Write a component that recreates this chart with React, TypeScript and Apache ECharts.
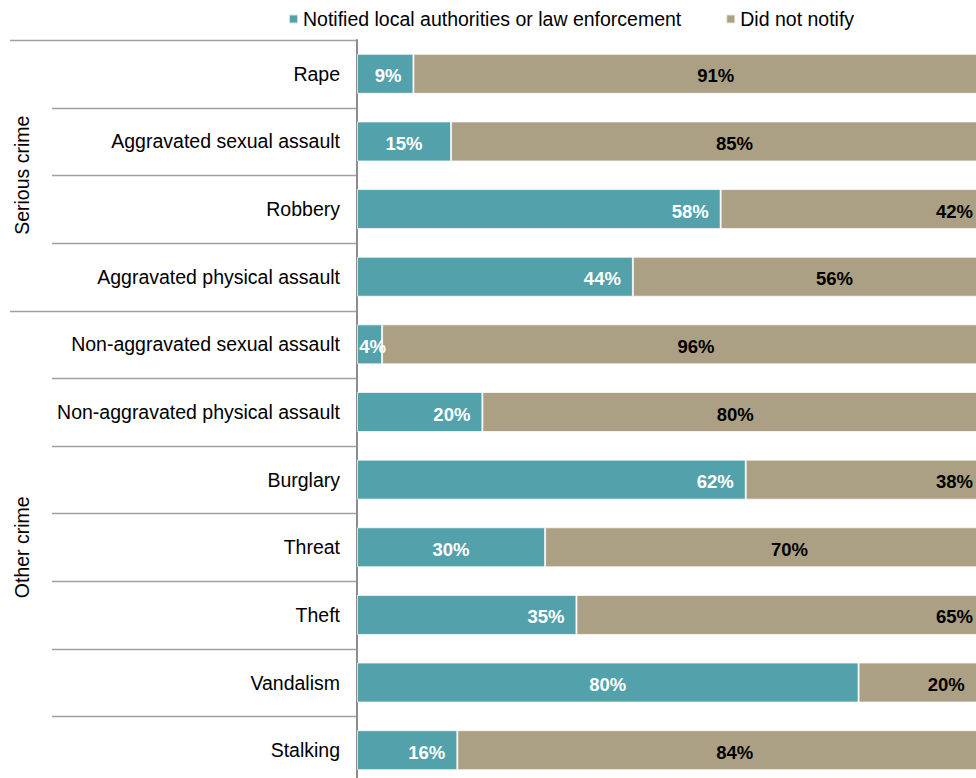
import React, { useEffect, useRef } from "react";
import * as echarts from "echarts";

const categories = [
  "Rape",
  "Aggravated sexual assault",
  "Robbery",
  "Aggravated physical assault",
  "Non-aggravated sexual assault",
  "Non-aggravated physical assault",
  "Burglary",
  "Threat",
  "Theft",
  "Vandalism",
  "Stalking",
];
const notified = [9, 15, 58, 44, 4, 20, 62, 30, 35, 80, 16];
const notNotified = [91, 85, 42, 56, 96, 80, 38, 70, 65, 20, 84];
const seriesNames = ["Notified local authorities or law enforcement", "Did not notify"];
const groups = [
  { name: "Serious crime", start: 0, end: 3 },
  { name: "Other crime", start: 4, end: 10 },
];

// label placement (style config, separate from data)
const notifiedLabelPos = ["insideRight", "inside", "insideRight", "insideRight", "inside", "insideRight", "insideRight", "inside", "insideRight", "inside", "insideRight"];
const notifiedLabelDx = [0, 0, 0, 0, 3, 0, 0, 0, 0, 0, 0];
const notNotifiedLabelPos = ["inside", "inside", "insideRight", "inside", "inside", "inside", "insideRight", "inside", "insideRight", "inside", "inside"];
const notNotifiedLabelDx = [17, 17, 0, 26, 13, 2, 0, 25, 0, 25, 14];
const LABEL_DY = 2;

const TEAL = "#53A2AB";
const TAN = "#ABA083";
const FONT = "'Liberation Sans', Arial, sans-serif";

export default function App() {
  const ref = useRef<HTMLDivElement>(null);
  useEffect(() => {
    document.body.style.margin = "0";
    document.body.style.overflow = "hidden";
    document.documentElement.style.overflow = "hidden";
    const chart = echarts.init(ref.current!, null, { renderer: "svg" });
    const option: any = {
      animation: false,
      textStyle: { fontFamily: FONT },
      legend: {
        left: 283,
        top: 4,
        itemWidth: 9,
        itemHeight: 9,
        itemGap: 44,
        icon: "rect",
        textStyle: { fontSize: 19.5, color: "#000", fontFamily: FONT },
        data: seriesNames,
      },
      grid: { left: 357, top: 40, right: 0, bottom: 0 },
      xAxis: {
        type: "value",
        min: 0,
        max: 100,
        show: false,
      },
      yAxis: {
        type: "category",
        data: categories,
        inverse: true,
        axisLine: { show: true, lineStyle: { color: "#8c8c8c", width: 2 } },
        axisTick: { show: false },
        axisLabel: { margin: 17, fontSize: 19.5, color: "#000", fontFamily: FONT },
      },
      series: [
        {
          name: seriesNames[0],
          type: "bar",
          stack: "total",
          barWidth: 40,
          itemStyle: { color: TEAL, borderColor: "rgba(255,255,255,0.7)", borderWidth: 1 },
          label: {
            show: true,
            formatter: "{c}%",
            color: "#fff",
            fontWeight: "bold",
            fontSize: 18.5,
            fontFamily: FONT,
            distance: 12,
          },
          data: notified.map((v, i) => ({
            value: v,
            label: { position: notifiedLabelPos[i], offset: [notifiedLabelDx[i], LABEL_DY] },
          })),
        },
        {
          name: seriesNames[1],
          type: "bar",
          stack: "total",
          barWidth: 40,
          itemStyle: { color: TAN, borderColor: "rgba(255,255,255,0.7)", borderWidth: 1 },
          label: {
            show: true,
            formatter: "{c}%",
            color: "#000",
            fontWeight: "bold",
            fontSize: 18.5,
            fontFamily: FONT,
            distance: 11,
          },
          data: notNotified.map((v, i) => ({
            value: v,
            label: { position: notNotifiedLabelPos[i], offset: [notNotifiedLabelDx[i], LABEL_DY] },
          })),
        },
      ],
    };
    chart.setOption(option);

    const c0 = chart.convertToPixel({ yAxisIndex: 0 }, categories[0]) as number;
    const c1 = chart.convertToPixel({ yAxisIndex: 0 }, categories[1]) as number;
    const band = c1 - c0;
    const axisX = chart.convertToPixel({ xAxisIndex: 0 }, 0) as number;
    const boundaryY = (i: number) => c0 + (i - 0.5) * band;
    const groupStarts = new Set<number>();
    groups.forEach((g) => {
      groupStarts.add(g.start);
      groupStarts.add(g.end + 1);
    });
    const graphics: any[] = [];
    for (let i = 0; i <= categories.length; i++) {
      const y = Math.round(boundaryY(i)) + 0.5;
      const long = groupStarts.has(i);
      graphics.push({
        type: "line",
        shape: { x1: long ? 10 : 52, y1: y, x2: axisX, y2: y },
        style: { stroke: "#a0a0a0", lineWidth: 1.5 },
        silent: true,
      });
    }
    groups.forEach((g) => {
      const cy = (boundaryY(g.start) + boundaryY(g.end + 1)) / 2;
      graphics.push({
        type: "text",
        x: 22,
        y: cy,
        rotation: Math.PI / 2,
        style: {
          text: g.name,
          fontSize: 19.5,
          fontFamily: FONT,
          fill: "#000",
          align: "center",
          verticalAlign: "middle",
        },
        silent: true,
      });
    });
    chart.setOption({ graphic: graphics });

    return () => chart.dispose();
  }, []);
  return <div ref={ref} style={{ width: 984, height: 784 }} />;
}
